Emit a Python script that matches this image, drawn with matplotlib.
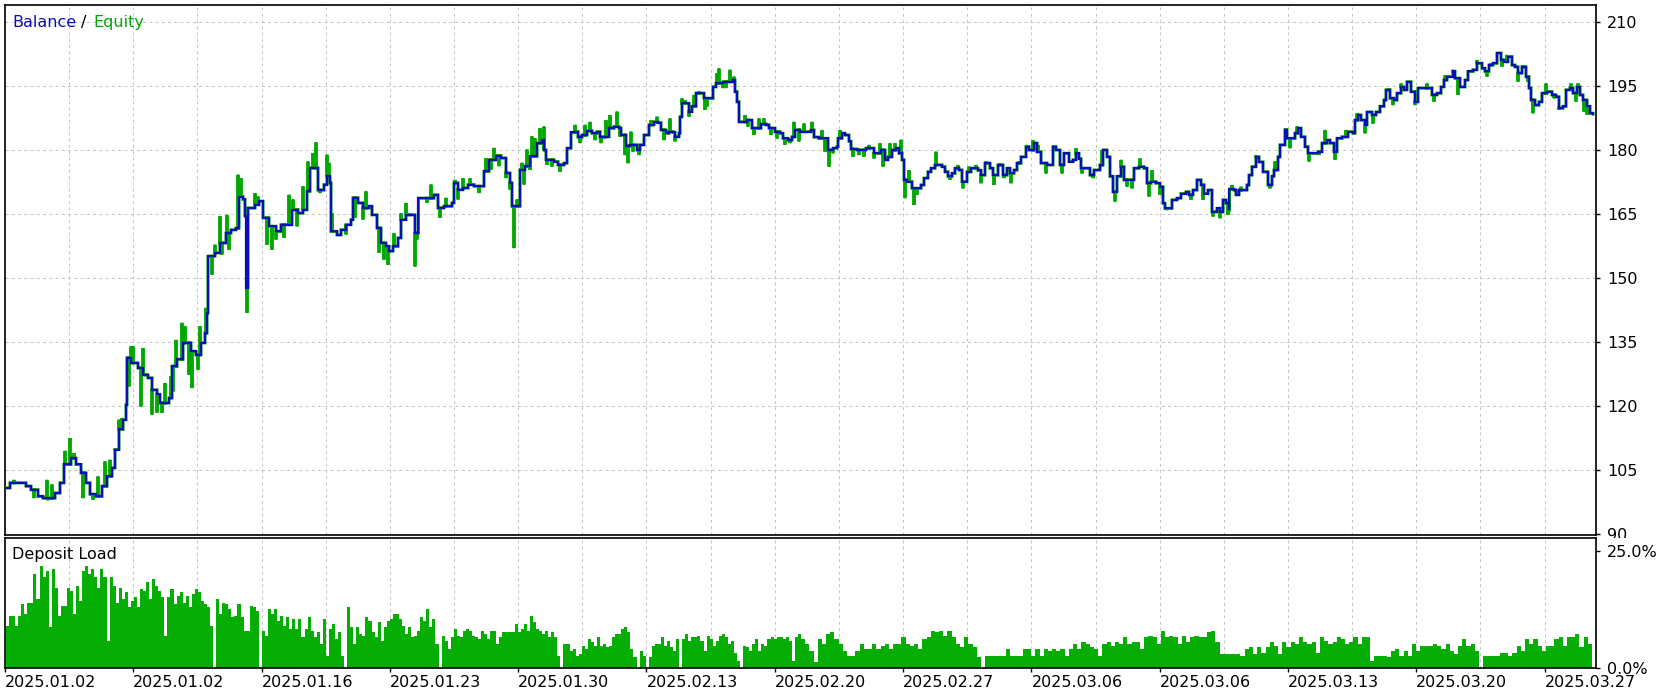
import numpy as np
import matplotlib
matplotlib.use('Agg')
import matplotlib.pyplot as plt
from matplotlib.patches import Rectangle

plt.rcParams['font.family'] = ['DejaVu Sans']
plt.rcParams['font.size'] = 11.5

# balance curve: (deal position, balance)
balance_pts = [
    (0, 100.8), (5, 102.0), (16, 102.0), (21, 101.2), (26, 100.4), (33, 98.8), (38, 98.4), (47, 98.4),
    (50, 99.6), (55, 102.0), (59, 106.3), (66, 107.8), (71, 106.3), (76, 104.3), (81, 102.0), (85, 99.3),
    (91, 98.8), (97, 101.2), (102, 103.5), (107, 105.5), (110, 109.8), (114, 114.5), (118, 116.8),
    (121, 120.3), (122, 131.3), (126, 130.1), (133, 128.9), (138, 127.3), (143, 126.6), (147, 123.8),
    (152, 122.7), (155, 120.7), (160, 120.7), (164, 121.9), (167, 129.3), (172, 130.9), (178, 134.8),
    (183, 134.8), (186, 132.8), (191, 132.0), (196, 134.8), (200, 137.1), (202, 141.8), (203, 155.1),
    (210, 155.9), (215, 158.2), (221, 160.5), (226, 161.3), (231, 161.7), (234, 169.1), (238, 168.4),
    (240, 164.5), (241.5, 147.7), (243, 166.4), (250, 167.2), (254, 168.0), (258, 164.1), (264, 162.1),
    (271, 160.9), (276, 162.5), (283, 162.5), (287, 166.0), (293, 165.2), (298, 166.0), (302, 170.3),
    (305, 175.8), (309, 175.8), (313, 170.6), (319, 171.9), (322, 173.8), (325, 172.3), (326, 160.9),
    (332, 160.1), (336, 161.3), (341, 162.5), (346, 163.7), (348, 168.8), (353, 167.6), (358, 166.4),
    (364, 166.8), (367, 164.8), (372, 161.7), (376, 158.2), (381, 157.4), (384, 156.3), (388, 157.4),
    (393, 159.4), (396, 163.7), (401, 164.8), (407, 164.8), (410, 160.5), (413, 160.5), (413.5, 168.7),
    (419, 168.7), (424, 168.7), (429, 169.5), (433, 166.4), (439, 166.8), (447, 167.6), (449, 172.3),
    (453, 170.7), (458, 171.1), (463, 171.9), (469, 171.5), (475, 171.5), (479, 175.0), (484, 177.7),
    (491, 178.7), (496, 178.1), (501, 174.6), (505, 172.3), (507, 166.8), (512, 166.8), (515, 175.4),
    (520, 176.2), (525, 178.5),
    (532, 181.6), (537, 182.3), (539, 180.0), (541, 177.7), (549, 177.3), (553, 176.5), (559, 176.9),
    (562, 180.4), (566, 184.1), (570, 184.3), (573, 183.0), (577, 183.5), (582, 184.5), (587, 183.9),
    (592, 184.3), (595, 183.0), (599, 183.1), (604, 185.1), (609, 185.5), (614, 185.1), (616, 183.5),
    (621, 180.9), (625, 181.2), (628, 181.2), (632, 180.0), (635, 181.2), (639, 183.5), (644, 185.9),
    (649, 186.6), (653, 186.4), (656, 184.7), (661, 183.9), (664, 184.3), (668, 184.1), (670, 183.1),
    (674, 183.9), (675, 187.8), (677, 190.9), (682, 190.9), (684, 189.0), (687, 190.2), (691, 193.3),
    (695, 193.3), (699, 192.1), (704, 192.1), (708, 194.8), (711, 195.6), (718, 196.0), (723, 196.0),
    (728, 196.4), (730, 193.7), (732, 191.3), (734, 186.6), (739, 186.6), (742, 187.0), (747, 185.1),
    (752, 185.1), (756, 186.1), (761, 185.9), (764, 185.1), (770, 184.3), (775, 183.9), (778, 182.7),
    (783, 182.3), (787, 183.1), (790, 184.7), (795, 184.3), (801, 184.3), (806, 184.7), (809, 183.0),
    (814, 182.7), (819, 182.7), (823, 180.0), (828, 180.4), (832, 180.8), (833, 182.7), (837, 183.9),
    (840, 183.5), (844, 182.0), (846, 180.2), (852, 180.0), (857, 180.0), (861, 180.4), (866, 180.4),
    (869, 179.2), (873, 179.2), (876, 180.0), (880, 177.7), (883, 178.4), (887, 180.0), (891, 180.4),
    (894, 179.2), (897, 177.7), (899, 173.0), (902, 172.6), (907, 171.0), (912, 171.0), (916, 171.8),
    (919, 173.4), (923, 174.9), (926, 175.7), (930, 176.5), (937, 176.1), (940, 174.9), (943, 173.8),
    (947, 174.5), (950, 175.7), (954, 175.3), (957, 172.6), (962, 174.9), (966, 175.7), (969, 175.7),
    (973, 175.2), (976, 174.1), (980, 176.9), (985, 175.7), (988, 174.1), (993, 176.5), (998, 174.1),
    (1002, 175.7), (1005, 174.5), (1009, 175.3), (1012, 176.9), (1016, 178.4), (1021, 180.8),
    (1024, 180.0), (1029, 181.6), (1032, 179.6), (1036, 176.9), (1042, 176.5), (1045, 176.5),
    (1048, 180.8), (1051, 180.0), (1055, 176.5),
    (1059, 179.2), (1064, 177.3), (1068, 177.7), (1071, 179.2), (1074, 178.0), (1076, 175.7),
    (1083, 175.7), (1085, 174.1), (1089, 175.3), (1095, 176.5), (1098, 180.0), (1102, 178.4),
    (1105, 173.8), (1108, 170.2), (1112, 173.8), (1116, 176.1), (1119, 173.0), (1124, 173.0),
    (1127, 173.0), (1129, 175.7), (1134, 176.1), (1139, 175.7), (1142, 172.2), (1146, 172.6),
    (1151, 172.2), (1155, 171.4), (1158, 167.5), (1160, 166.3), (1165, 166.3), (1167, 168.3),
    (1172, 168.7), (1176, 169.8), (1181, 170.2), (1184, 169.5), (1188, 170.6), (1192, 173.0),
    (1196, 171.8), (1199, 169.8), (1203, 170.6), (1207, 165.5), (1212, 166.3), (1215, 165.5),
    (1218, 168.3), (1221, 167.5), (1224, 165.9), (1224.5, 170.8), (1229, 170.6), (1231, 169.5),
    (1234, 170.6), (1239, 170.6), (1242, 171.8), (1244, 174.1), (1247, 176.1), (1251, 178.4),
    (1254, 177.2), (1258, 174.9), (1261, 174.9), (1263, 171.8), (1267, 173.8), (1269, 175.3),
    (1273, 178.4), (1275, 181.2), (1280, 184.7), (1282, 182.7), (1287, 182.7), (1290, 183.9),
    (1293, 185.1), (1296, 183.1), (1300, 180.8), (1303, 179.2), (1308, 179.2), (1313, 179.6),
    (1317, 181.6), (1322, 182.3), (1325, 181.6), (1329, 179.6), (1332, 182.7), (1337, 183.1),
    (1343, 184.3), (1348, 183.9), (1350, 187.0), (1353, 188.2), (1356, 187.0), (1360, 185.9),
    (1362, 188.9), (1367, 188.2), (1371, 188.9), (1375, 190.2), (1379, 191.7), (1381, 194.1),
    (1385, 192.1), (1389, 191.7), (1392, 193.3), (1396, 194.8), (1399, 194.1), (1402, 196.0),
    (1406, 193.7), (1410, 191.3), (1413, 194.5), (1418, 194.5), (1423, 194.5), (1427, 192.9),
    (1432, 193.3), (1436, 194.8), (1439, 196.4), (1442, 197.2), (1448, 198.4), (1450, 196.8),
    (1455, 194.8), (1460, 196.4), (1463, 198.4), (1468, 198.8), (1472, 200.3), (1477, 199.1),
    (1480, 198.4), (1484, 199.9), (1488, 200.3), (1492, 202.7), (1496, 201.1), (1499, 200.7),
    (1503, 201.9), (1507, 199.9), (1510, 199.5), (1513, 198.0), (1517, 199.5), (1521, 197.2),
    (1524, 194.5), (1526, 191.7), (1530, 190.5), (1534, 191.3), (1537, 193.3), (1542, 193.7),
    (1547, 192.9), (1551, 192.5), (1554, 189.8), (1558, 190.2), (1561, 194.1), (1565, 194.5),
    (1568, 193.3), (1572, 194.8), (1575, 192.9), (1578, 191.7), (1582, 190.2), (1585, 188.6),
    (1588, 188.4),
]

# equity excursions away from balance: (deal position, equity)
equity_spikes = [
    (9, 102.7), (29, 98.4), (42, 102.7), (43, 97.9), (47, 101.6), (60, 109.5), (65, 112.5), (69, 109.0),
    (78, 98.4), (80, 102.7), (88, 98.0), (93, 103.5), (100, 107.0), (105, 107.4), (110, 110.1),
    (114, 116.8), (117, 117.2), (124, 124.6), (126, 134.0), (128, 134.0), (136, 119.9), (138, 133.6),
    (141, 127.0), (147, 118.0), (152, 118.4), (157, 118.4), (160, 125.4), (166, 127.0), (168, 123.4),
    (171, 135.5), (177, 139.5), (180, 138.7), (184, 127.3), (187, 124.2), (193, 128.5), (195, 138.7),
    (201, 143.0), (207, 150.8), (210, 157.8), (215, 164.5), (217, 155.5), (222, 164.8), (224, 156.6),
    (233, 174.2), (236, 173.4), (242, 141.8), (250, 169.9), (253, 169.1), (262, 157.8), (267, 156.6),
    (271, 159.0), (279, 159.4), (284, 169.5), (288, 168.4), (292, 162.1), (298, 171.5), (303, 177.3),
    (308, 179.3), (311, 181.8), (315, 169.9), (322, 178.9), (324, 177.0), (327, 165.2), (336, 160.2),
    (341, 160.2), (350, 164.1), (358, 163.7), (361, 170.3), (374, 155.9), (379, 154.3), (383, 153.1),
    (389, 160.5), (396, 165.2), (401, 167.6), (405, 164.5), (410, 152.7), (412, 159.0), (422, 167.6),
    (426, 171.9), (435, 164.1), (441, 168.8), (450, 173.0), (453, 168.4), (458, 173.4), (465, 173.4),
    (474, 169.9), (481, 178.1), (486, 175.4), (489, 180.5), (494, 176.2), (501, 173.4), (505, 170.7),
    (509, 157.0), (512, 168.4), (517, 177.0), (519, 171.9), (522, 180.1), (525, 175.3), (527, 183.2),
    (530, 182.7), (535, 185.1), (539, 185.5), (542, 176.5), (547, 176.1), (555, 174.9), (570, 185.9),
    (575, 181.6), (580, 185.9), (585, 186.6), (590, 182.3), (596, 181.6), (601, 187.0), (605, 188.2),
    (612, 189.0), (615, 183.1), (620, 178.8), (623, 176.9), (626, 184.3), (628, 179.6), (634, 178.8),
    (646, 187.0), (652, 187.8), (659, 182.3), (665, 187.4), (670, 182.0), (677, 192.1), (680, 191.7),
    (684, 187.8), (689, 192.9), (694, 193.7), (700, 189.4), (702, 190.2), (712, 198.0), (714, 199.1),
    (718, 194.5), (721, 194.5), (725, 198.8), (729, 197.2), (740, 188.2), (743, 185.5), (749, 183.5),
    (754, 187.4), (759, 187.4), (766, 183.5), (772, 182.7), (780, 181.2), (785, 181.6), (789, 186.6),
    (794, 182.0), (799, 186.2), (807, 186.6), (817, 184.7), (820, 179.6), (824, 176.1), (828, 179.2),
    (835, 184.7), (848, 178.4), (854, 178.8), (859, 178.4), (864, 181.2), (869, 178.0), (875, 181.6),
    (878, 176.1), (885, 181.6), (890, 181.6), (896, 182.4), (900, 168.7), (904, 175.3), (909, 167.1),
    (912, 169.5), (931, 179.6), (945, 173.0), (953, 176.5), (958, 171.0), (964, 176.1), (971, 176.5),
    (976, 172.2), (981, 177.3), (989, 171.8), (995, 176.9), (999, 173.4), (1006, 172.2), (1014, 177.3),
    (1022, 181.2), (1028, 182.3), (1033, 181.2), (1041, 174.5), (1050, 180.8), (1057, 174.5),
    (1071, 180.4), (1077, 174.5), (1088, 173.4), (1097, 180.0), (1110, 167.9), (1116, 177.7),
    (1122, 171.4), (1127, 171.0), (1135, 178.0), (1144, 169.1), (1147, 175.3), (1155, 169.5),
    (1162, 165.9), (1186, 168.3), (1198, 168.3), (1208, 164.4), (1215, 164.0), (1223, 164.8),
    (1227, 171.8), (1236, 171.4), (1251, 178.8), (1265, 171.0), (1270, 177.3), (1281, 185.1),
    (1285, 180.4), (1292, 185.5), (1304, 177.3), (1314, 178.8), (1320, 184.7), (1330, 177.7),
    (1341, 184.7), (1352, 188.6), (1360, 183.9), (1368, 186.2), (1384, 194.5), (1388, 190.5),
    (1396, 195.6), (1406, 195.6), (1410, 190.5), (1422, 195.6), (1429, 191.3), (1440, 197.5),
    (1448, 198.8), (1453, 192.9), (1472, 201.1), (1482, 197.2), (1486, 200.3), (1497, 199.5),
    (1502, 202.3), (1513, 196.0), (1518, 199.9), (1523, 196.0), (1528, 188.6), (1541, 195.6),
    (1549, 192.1), (1554, 189.4), (1566, 195.6), (1571, 191.3), (1573, 195.6), (1579, 189.0),
    (1582, 188.3),
]

# deposit load, % (first half / second half of the test)
load_a = [
    9.0, 11.2, 11.2, 9.0, 11.2, 13.7, 11.5, 14.0, 14.0, 20.1, 14.7, 21.9, 19.4, 20.8, 8.7,
    21.1, 17.2, 11.2, 13.3, 13.3, 17.2, 16.5, 11.5, 17.6, 14.4, 20.8, 21.9, 20.1, 21.1, 19.4, 17.2,
    21.1, 19.4, 5.8, 19.4, 17.6, 14.0, 17.2, 14.7, 16.2, 13.0, 14.4, 15.1, 13.0, 16.9,
    16.5, 18.3, 14.7, 19.0, 17.6, 16.5, 15.1, 6.9, 15.1, 16.9, 13.7, 15.5, 16.2,
    14.0, 15.5, 13.0, 15.8, 16.9, 16.2, 14.4, 13.7, 13.0, 9.0, 0, 14.7, 11.5, 14.0,
    13.7, 12.6, 10.8, 11.2, 13.7, 10.8, 8.0, 8.0, 13.3, 13.0, 12.2, 0, 8.0, 6.9,
    12.6, 11.5, 12.6, 10.1, 11.2, 9.0, 10.8, 8.3, 10.5, 8.3, 10.5, 6.6, 8.3, 10.8, 8.0,
    6.6, 7.6, 5.1, 10.5, 2.6, 8.3, 9.4, 6.2, 7.6, 2.6, 0, 13.0, 8.7,
    5.1, 8.7, 7.3, 6.9, 10.8, 10.1, 7.6, 6.6, 9.8, 5.8, 8.7, 10.1, 10.5, 11.5,
    11.5, 10.5, 9.0, 7.3, 8.7, 6.6, 6.9, 8.0, 10.8, 10.1, 12.6, 8.7, 10.5, 5.1, 0,
    6.9, 5.8, 4.1, 6.6, 8.3, 6.9, 6.6, 8.0, 8.3, 8.0, 6.9, 6.6, 6.2,
    8.0, 7.3, 6.2, 8.0, 8.0, 5.1, 6.6, 7.6, 7.6, 7.6, 7.6, 9.4, 7.6, 8.3, 9.4,
    8.0, 11.2, 9.8, 8.3, 8.0, 7.3, 8.0, 6.6, 7.6, 6.6, 2.6, 0, 5.1, 5.1, 3.7, 4.1,
    2.6, 3.0, 4.8, 4.1, 6.2, 5.5, 4.8, 6.6, 4.8, 5.1, 4.4, 4.8, 6.6, 7.3,
    7.3, 8.3, 8.7, 7.6, 4.1, 2.3, 0, 3.7, 2.6, 0, 2.3, 4.8, 5.1, 5.1, 6.6, 4.8,
    5.8, 4.4, 3.7, 6.2, 0, 6.2, 7.3, 5.8, 6.6, 6.6, 6.9, 5.8, 3.7, 6.9,
    6.2, 4.8, 5.8, 6.9, 7.3, 6.6, 5.1, 5.8, 3.3, 1.6, 0, 4.8, 4.4, 3.7, 5.1, 6.2,
    3.7, 5.1, 4.8, 6.2, 6.6, 6.2, 6.6, 6.6, 6.2, 6.6, 5.8, 1.6, 6.6, 7.3,
]
load_b = [
    6.2, 5.1, 3.7, 1.2, 6.2, 5.1, 7.3, 7.6, 6.2, 5.1, 3.7, 2.6, 2.6, 3.7, 5.1, 4.1,
    4.1, 5.1, 4.1, 4.8, 5.1, 4.1, 5.1, 5.1, 6.6, 5.1, 4.8, 5.1, 4.1, 6.2, 6.6, 8.0,
    7.6, 8.0, 6.9, 8.0, 6.6, 5.1, 4.4, 6.6, 5.1, 4.4, 2.3, 0, 2.6, 2.6, 2.6, 2.6, 2.6,
    4.1, 2.6, 2.6, 2.6, 4.1, 4.1, 2.6, 4.1, 2.6, 4.1, 3.7, 4.1, 3.7, 4.1, 2.6, 4.1,
    5.1, 4.1, 5.5, 5.1, 4.4, 4.1, 2.6, 5.1, 5.5, 4.8, 5.5, 5.1, 6.6, 5.1,
    5.5, 5.5, 4.1, 6.6, 6.9, 6.6, 5.1, 8.0, 6.6, 6.9, 6.6, 5.1, 6.9,
    5.5, 6.6, 6.9, 6.6, 6.6, 7.6, 8.0, 5.5, 3.0, 3.0, 3.0, 3.0, 3.0, 2.6,
    4.1, 4.4, 3.0, 4.4, 3.3, 4.4, 5.5, 4.8, 3.0, 5.5, 4.4, 5.5, 5.1, 6.6, 5.5, 5.1, 5.5, 3.3,
    6.6, 5.8, 5.1, 5.5, 6.6, 6.2, 5.1, 5.5, 6.6, 5.1, 6.6, 6.6, 1.6, 2.6, 2.6, 2.6, 2.3,
    3.7, 4.1, 2.6, 3.7, 2.6, 5.1, 3.7, 4.8, 4.8, 4.8, 5.1, 4.8, 4.1, 5.1, 3.7, 3.0,
    4.8, 6.2, 4.8, 5.1, 3.7, 0, 2.6, 2.6, 2.6, 2.6, 3.3, 3.3, 2.6, 3.3, 4.8, 3.7,
    6.2, 5.1, 6.2, 4.8, 3.7, 4.8, 4.8, 6.2, 6.6, 4.8, 6.6, 6.6, 7.3, 4.4, 6.6, 5.1,
]

date_labels = ['2025.01.02', '2025.01.02', '2025.01.16', '2025.01.23', '2025.01.30',
               '2025.02.13', '2025.02.20', '2025.02.27', '2025.03.06', '2025.03.06',
               '2025.03.13', '2025.03.20', '2025.03.27']
y_ticks = [90, 105, 120, 135, 150, 165, 180, 195, 210]

W, H = 1681, 697
BLUE = '#0C0CB8'
GREEN = '#00A800'
BAR_GREEN = '#05AD05'
GRID = '#C8C8C8'
step = 64.15  # one grid cell in deal positions
x_end = 1591

fig = plt.figure(figsize=(W / 100, H / 100), dpi=100)
ax = fig.add_axes([5 / W, 1 - 535 / H, x_end / W, (535 - 4.7) / H], zorder=0)
ax2 = fig.add_axes([5 / W, 1 - 668 / H, x_end / W, (668 - 537.5) / H], zorder=2)

bx = np.array([p[0] for p in balance_pts], dtype=float)
by = np.array([p[1] for p in balance_pts])
sx = np.array([p[0] for p in equity_spikes], dtype=float)
sy = np.array([p[1] for p in equity_spikes])

# equity path: stepped balance plus vertical excursions
base = by[np.clip(np.searchsorted(bx, sx, side='right') - 1, 0, None)]
px = np.concatenate([bx, sx, sx, sx])
py = np.concatenate([by, base, sy, base])
key = np.concatenate([np.zeros(len(bx)), np.ones(len(sx)), np.full(len(sx), 2), np.full(len(sx), 3)])
order = np.lexsort((key, px))
ax.plot(px[order], py[order], color=GREEN, lw=2.1, drawstyle='steps-post',
        solid_joinstyle='miter', zorder=3)
ax.plot(bx, by, color=BLUE, lw=1.6, drawstyle='steps-post', solid_joinstyle='miter', zorder=4)

major = np.arange(0, x_end, 2 * step)
minor = np.arange(step, x_end, 2 * step)

for a in (ax, ax2):
    a.set_xlim(0, x_end)
    a.set_xticks(major)
    a.set_xticks(minor, minor=True)
    a.grid(True, axis='x', which='both', color=GRID, linestyle=(0, (3, 3)), linewidth=0.75)
    a.set_axisbelow(True)
    for s in a.spines.values():
        s.set_linewidth(1.2)
        s.set_color('black')
    a.yaxis.tick_right()
    a.tick_params(axis='y', direction='out', length=3, width=1, pad=5, labelsize=11.5)
    a.tick_params(axis='x', which='minor', length=0)

ax.set_ylim(89.77, 214.05)
ax.set_yticks(y_ticks)
ax.grid(True, axis='y', color=GRID, linestyle=(0, (3, 3)), linewidth=0.75)
ax.tick_params(axis='x', length=0, labelbottom=False)

# deposit load bars
ea = np.linspace(1, 796, len(load_a) + 1)
eb = np.linspace(796, 1587, len(load_b) + 1)
ax2.bar(ea[:-1], load_a, width=np.diff(ea), align='edge', color=BAR_GREEN, linewidth=0)
ax2.bar(eb[:-1], load_b, width=np.diff(eb), align='edge', color=BAR_GREEN, linewidth=0)
ax2.set_ylim(0, 27.9)
ax2.set_yticks([0, 25])
ax2.set_yticklabels(['0.0%', '25.0%'])
ax2.set_xticklabels(date_labels)
ax2.tick_params(axis='x', which='major', direction='out', length=3, width=1, pad=2, labelsize=11.5)
for lbl in ax2.get_xticklabels():
    lbl.set_ha('left')

# the lower pane hides the bottom part of the "90" label
fig.add_artist(Rectangle((1597 / W, 0), 1 - 1597 / W, 1 - 537.5 / H, transform=fig.transFigure,
                         facecolor='white', edgecolor='none', zorder=1))

# panel captions
renderer = fig.canvas.get_renderer()
yb = 1 - 27.3 / H
t1 = fig.text(12 / W, yb, 'Balance', color=BLUE, va='baseline', fontsize=11.5, zorder=5)
x1 = t1.get_window_extent(renderer).x1
t2 = fig.text((x1 + 5) / W, yb, '/', color='black', va='baseline', fontsize=11.5, zorder=5)
x2 = t2.get_window_extent(renderer).x1
fig.text((x2 + 7) / W, yb, 'Equity', color=GREEN, va='baseline', fontsize=11.5, zorder=5)
fig.text(12.5 / W, 1 - 559.3 / H, 'Deposit Load', color='black', va='baseline', fontsize=11.5, zorder=5)

fig.savefig('out.png', dpi=100, facecolor='white')
